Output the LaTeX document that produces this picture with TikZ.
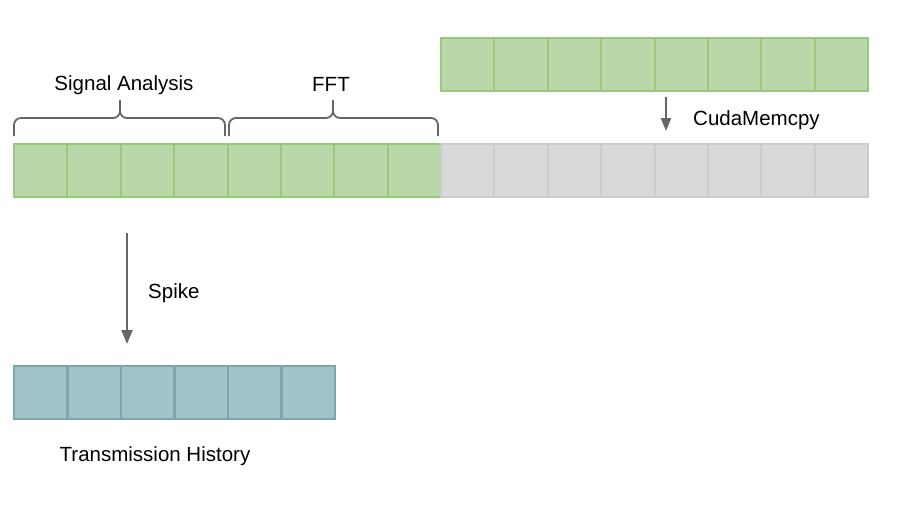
\documentclass[tikz,border=0pt]{standalone}
\usepackage{fontspec}
\setmainfont{Liberation Sans}
\usetikzlibrary{arrows.meta}
\definecolor{gfill}{HTML}{B9D7A8}
\definecolor{gdraw}{HTML}{97C97D}
\definecolor{hfill}{HTML}{D9D9D9}
\definecolor{hdraw}{HTML}{CCCCCC}
\definecolor{tfill}{HTML}{A2C4C9}
\definecolor{tdraw}{HTML}{7BA6AE}
\definecolor{ink}{HTML}{666666}
\tikzset{
  cellbox/.style={minimum width=53.375pt,minimum height=53pt,inner sep=0pt,line width=2pt},
  gcell/.style={cellbox,fill=gfill,draw=gdraw},
  hcell/.style={cellbox,fill=hfill,draw=hdraw},
  tcell/.style={cellbox,fill=tfill,draw=tdraw},
  lbl/.style={font=\fontsize{20.5}{24}\selectfont,inner sep=0pt,text=black},
  arr/.style={draw=ink,line width=2.2pt,-{Triangle[width=11pt,length=14pt]}},
  bracestyle/.style={draw=ink,line width=1.8pt,rounded corners=7pt}
}
\begin{document}
\begin{tikzpicture}[x=1pt,y=-1pt]
\useasboundingbox (0,0) rectangle (910,528);
% top row
\foreach \i in {1,...,8}{
  \node[gcell] (top\i) at ({441+53.375*(\i-0.5)},64.5) {};
}
% main row
\foreach \i in {1,...,8}{
  \node[gcell] (m\i) at ({14+53.375*(\i-0.5)},170.5) {};
}
\foreach \i in {9,...,16}{
  \node[hcell] (m\i) at ({14+53.375*(\i-0.5)},170.5) {};
}
% transmission history row
\foreach \i in {1,...,6}{
  \node[tcell] (t\i) at ({14+53.5*(\i-0.5)},392) {};
}
% braces
\draw[bracestyle] (14,136) -- (14,118) -- (120,118) -- (120,100);
\draw[bracestyle] (225,136) -- (225,118) -- (120,118) -- (120,100);
\draw[bracestyle] (229,136) -- (229,118) -- (333,118) -- (333,100);
\draw[bracestyle] (438,136) -- (438,118) -- (333,118) -- (333,100);
% labels
\node[lbl] (sa) at (124,85) {Signal Analysis};
\node[lbl] (fft) at (331,84) {FFT};
\node[lbl,anchor=west] (cm) at (693,120) {CudaMemcpy};
\node[lbl,anchor=west] (sp) at (148,293) {Spike};
\node[lbl] (th) at (155,456) {Transmission History};
% arrows
\coordinate (cms) at (666,97);
\coordinate (cme) at (666,131);
\draw[arr,-{Triangle[width=10pt,length=13pt]}] (cms) -- (cme);
\coordinate (sps) at (127,233);
\coordinate (spe) at (127,344);
\draw[arr] (sps) -- (spe);
\end{tikzpicture}
\end{document}
